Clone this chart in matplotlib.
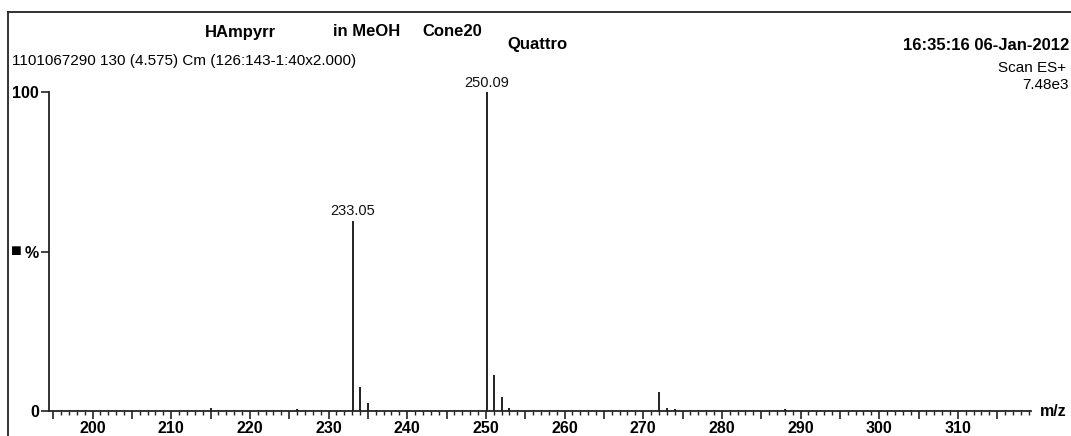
import numpy as np
import matplotlib.pyplot as plt
from matplotlib.ticker import MultipleLocator, FuncFormatter
from matplotlib.lines import Line2D

plt.rcParams['font.family'] = ['Liberation Sans', 'DejaVu Sans']

# peak list (m/z, relative intensity %)
mz = [215.0, 226.0, 233.05, 234.06, 235.07, 236.0, 250.09, 251.05, 252.03,
      253.0, 272.0, 273.0, 274.0, 288.0, 304.0]
intensity = [0.8, 0.5, 59.7, 7.6, 2.6, 0.4, 100.0, 11.3, 4.5,
             0.9, 5.8, 0.9, 0.5, 0.7, 0.4]
labelled = [233.05, 250.09]

W, H = 1071, 436


def fx(px):
    return px / W


def fy(py):
    return 1 - py / H


fig = plt.figure(figsize=(W / 100, H / 100), dpi=100)
ax = fig.add_axes([fx(48.5), fy(411), fx(1031) - fx(48.5), fy(92) - fy(411)])

ax.vlines(mz, 0, intensity, color='#222222', linewidth=1.4)
for m, v in zip(mz, intensity):
    if m in labelled:
        ax.annotate('%.2f' % m, (m, v), xytext=(0, 1.5), textcoords='offset points',
                    ha='center', va='bottom', fontsize=10.5, color='#111111',
                    annotation_clip=False)

ax.set_xlim(194.4, 319.3)
ax.set_ylim(0, 100)

for s in ['top', 'right']:
    ax.spines[s].set_visible(False)
ax.spines['left'].set_color('#222222')
ax.spines['bottom'].set_color('#222222')
ax.spines['left'].set_linewidth(1.3)
ax.spines['bottom'].set_linewidth(1.3)

ax.xaxis.set_major_locator(MultipleLocator(5))
ax.xaxis.set_minor_locator(MultipleLocator(1))
ax.xaxis.set_major_formatter(FuncFormatter(lambda v, p: '%d' % v if round(v) % 10 == 0 else ''))
ax.tick_params(axis='x', which='major', length=6, width=1.2, color='#222222',
               labelsize=11.5, pad=1)
ax.tick_params(axis='x', which='minor', length=3, width=1.0, color='#222222')
for lab in ax.get_xticklabels():
    lab.set_fontweight('bold')

ax.set_yticks([0, 50, 100])
ax.set_yticklabels(['0', '%', '100'])
ax.tick_params(axis='y', length=6, width=1.2, color='#222222', labelsize=11.5, pad=1)
for lab in ax.get_yticklabels():
    lab.set_fontweight('bold')

# frame of the printout
fig.add_artist(Line2D([fx(8), fx(8)], [0, fy(12)], color='#222222', linewidth=1.3))
fig.add_artist(Line2D([fx(8), 1], [fy(12), fy(12)], color='#222222', linewidth=1.3))

fig.text(fx(16), fy(251), '\u25a0', fontsize=13, ha='center', va='center')
fig.text(fx(1040), fy(411), 'm/z', fontsize=11.5, fontweight='bold', ha='left', va='center')

fig.text(fx(240), fy(32), 'HAmpyrr', fontsize=12, fontweight='bold', ha='center', va='center')
fig.text(fx(367), fy(32), 'in MeOH', fontsize=12, fontweight='bold', ha='center', va='center')
fig.text(fx(452), fy(32), 'Cone20', fontsize=12, fontweight='bold', ha='center', va='center')
fig.text(fx(537), fy(44), 'Quattro', fontsize=12, fontweight='bold', ha='center', va='center')
fig.text(fx(1069), fy(45), '16:35:16 06-Jan-2012', fontsize=12, fontweight='bold',
         ha='right', va='center')
fig.text(fx(1066), fy(68), 'Scan ES+', fontsize=11, ha='right', va='center')
fig.text(fx(1069), fy(85), '7.48e3', fontsize=11, ha='right', va='center')
fig.text(fx(12), fy(61), '1101067290 130 (4.575) Cm (126:143-1:40x2.000)', fontsize=11,
         ha='left', va='center')

fig.savefig('out.png', dpi=100)
